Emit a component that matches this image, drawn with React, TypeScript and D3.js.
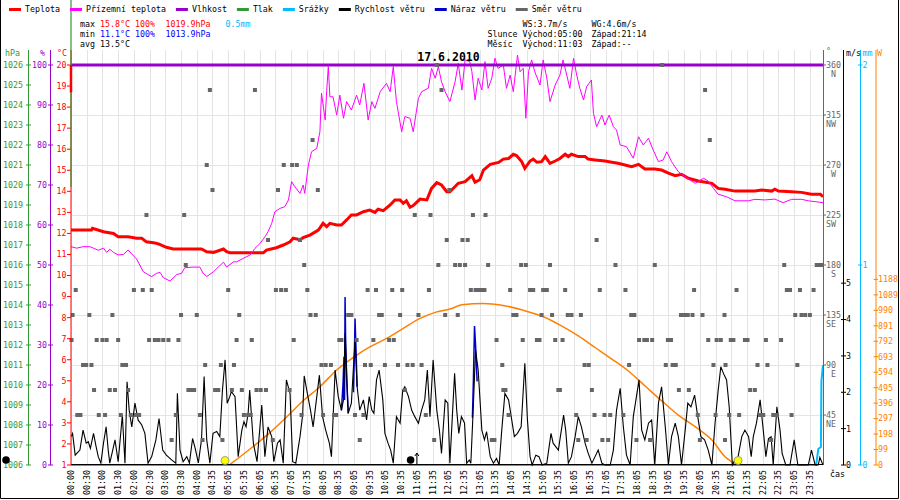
import * as d3 from 'd3';
import { useEffect, useRef } from 'react';

// x axis: one label per 30 min slot
const timeLabels = [
  '00:00', '00:30', '01:00', '01:30', '02:00', '02:30', '03:00', '03:30', '04:00', '04:35',
  '05:05', '05:35', '06:05', '06:35', '07:05', '07:35', '08:05', '08:35', '09:05', '09:35',
  '10:05', '10:35', '11:05', '11:35', '12:05', '12:35', '13:05', '13:35', '14:05', '14:35',
  '15:05', '15:35', '16:05', '16:35', '17:05', '17:35', '18:05', '18:35', '19:05', '19:35',
  '20:05', '20:35', '21:05', '21:35', '22:05', '22:35', '23:05', '23:35'
];

// [minute of day, value]
const temperature: [number, number][] = [
  [0, 12.16], [39, 12.16], [41, 12.24], [62, 12.08], [81, 12.0], [90, 11.84], [109, 11.84], [125, 11.77],
  [135, 11.77], [144, 11.6], [160, 11.55], [167, 11.5], [182, 11.34], [195, 11.26], [249, 11.26], [259, 11.13],
  [272, 11.1], [291, 11.26], [297, 11.13], [303, 11.08], [367, 11.08], [373, 11.21], [392, 11.32], [405, 11.45],
  [418, 11.6], [424, 11.77], [437, 11.7], [443, 11.8], [456, 11.92], [472, 12.16], [481, 12.48], [488, 12.32],
  [494, 12.48], [507, 12.4], [516, 12.4], [526, 12.64], [535, 12.88], [545, 12.88], [558, 13.03], [570, 13.11],
  [580, 13.0], [586, 13.15], [596, 13.08], [609, 13.35], [618, 13.59], [628, 13.59], [634, 13.43], [640, 13.55],
  [647, 13.24], [653, 13.32], [666, 13.63], [679, 13.59], [688, 14.14], [698, 14.41], [707, 14.3], [717, 13.98],
  [723, 13.98], [739, 14.38], [752, 14.46], [765, 14.74], [771, 14.43], [780, 14.55], [787, 15.01], [800, 15.28],
  [816, 15.37], [825, 15.53], [835, 15.56], [844, 15.76], [850, 15.7], [860, 15.41], [866, 15.09], [876, 15.44],
  [882, 15.53], [889, 15.38], [898, 15.41], [905, 15.65], [914, 15.33], [924, 15.44], [933, 15.56], [943, 15.76],
  [949, 15.65], [955, 15.76], [968, 15.65], [981, 15.65], [987, 15.53], [1000, 15.49], [1019, 15.44], [1032, 15.38],
  [1044, 15.33], [1057, 15.25], [1070, 15.17], [1083, 15.28], [1095, 15.06], [1114, 15.06], [1127, 15.01], [1140, 14.86],
  [1153, 14.74], [1165, 14.81], [1178, 14.62], [1197, 14.49], [1223, 14.38], [1235, 14.14], [1248, 14.1], [1267, 14.01],
  [1280, 14.01], [1305, 14.01], [1318, 14.06], [1337, 14.01], [1343, 14.1], [1350, 14.01], [1375, 13.98], [1394, 13.95],
  [1413, 13.86], [1430, 13.86], [1435, 13.74]
];

const apparentTemp: [number, number][] = [
  [0, 11.37], [11, 11.3], [23, 11.37], [36, 11.37], [43, 11.3], [52, 11.2], [62, 11.3], [68, 11.1], [74, 11.25],
  [81, 11.1], [90, 10.98], [100, 11.0], [109, 11.21], [125, 10.79], [138, 10.18], [148, 10.03], [154, 9.95],
  [163, 10.1], [170, 10.15], [176, 9.9], [189, 9.74], [202, 10.05], [211, 10.1], [217, 10.37], [233, 10.4],
  [246, 10.4], [252, 10.11], [259, 9.95], [272, 10.18], [281, 10.4], [291, 10.63], [297, 10.4], [310, 10.65],
  [316, 10.65], [329, 10.82], [342, 10.98], [351, 11.29], [361, 11.53], [370, 11.84], [376, 12.08], [383, 12.48],
  [389, 13.03], [399, 13.19], [408, 13.27], [415, 13.59], [421, 14.46], [427, 14.22], [437, 13.9], [443, 14.3],
  [446, 13.9], [453, 15.25], [459, 15.88], [469, 16.04], [475, 16.83], [478, 18.66], [485, 17.39], [488, 18.8],
  [491, 19.92], [494, 18.49], [500, 18.49], [507, 17.62], [513, 18.57], [520, 17.47], [526, 18.26], [535, 17.86],
  [545, 18.57], [551, 18.1], [559, 19.13], [567, 17.39], [574, 18.26], [580, 17.94], [590, 18.73], [602, 19.13],
  [609, 18.73], [615, 19.92], [621, 18.26], [631, 16.83], [637, 17.55], [647, 17.47], [653, 16.83], [663, 18.42],
  [669, 18.73], [682, 18.9], [688, 19.84], [695, 19.37], [701, 19.92], [707, 19.21], [714, 18.73], [723, 18.26],
  [733, 19.21], [739, 20.08], [746, 18.81], [752, 20.24], [761, 20.16], [765, 19.68], [771, 18.34], [777, 19.37],
  [784, 18.81], [790, 20.16], [796, 18.89], [803, 19.37], [809, 20.32], [815, 19.84], [825, 20.0], [831, 18.89],
  [838, 19.52], [844, 18.73], [852, 20.47], [857, 19.68], [863, 19.84], [868, 17.47], [873, 19.68], [879, 20.24],
  [885, 19.68], [895, 19.05], [901, 20.24], [908, 19.37], [914, 18.26], [924, 19.05], [933, 19.52], [939, 20.24],
  [946, 19.52], [952, 18.89], [959, 20.32], [965, 19.52], [971, 18.89], [978, 18.34], [984, 18.97], [993, 19.29],
  [997, 17.7], [1003, 17.07], [1013, 17.62], [1019, 17.15], [1027, 17.62], [1035, 17.07], [1041, 16.91], [1048, 16.2],
  [1060, 16.12], [1073, 15.57], [1083, 16.59], [1092, 16.2], [1102, 16.52], [1111, 15.96], [1121, 15.41], [1130, 15.49],
  [1137, 15.88], [1146, 15.41], [1159, 14.93], [1172, 14.69], [1191, 14.38], [1207, 14.62], [1216, 14.49], [1226, 14.14],
  [1235, 13.86], [1251, 13.74], [1267, 13.55], [1293, 13.55], [1305, 13.62], [1324, 13.59], [1343, 13.63], [1359, 13.46],
  [1375, 13.62], [1394, 13.62], [1407, 13.55], [1420, 13.51], [1435, 13.46]
];

const humidity: [number, number][] = [[0, 100], [1435, 100]];

const precipitation: [number, number][] = [
  [0, 0], [1422, 0], [1426, 0.08], [1431, 0.09], [1432, 0.42], [1435, 0.5]
];

const windSpeed: [number, number][] = [
  [0, 0.78], [3, 0.87], [8, 0.27], [11, 0.32], [17, 0.41], [23, 0.96], [29, 0.6], [33, 0.64], [37, 0.46], [43, 0.87],
  [48, 0.5], [52, 0.23], [57, 0.05], [62, 0.6], [67, 1.05], [71, 0.41], [74, 0.05], [79, 0.37], [84, 0.69], [90, 0.09],
  [98, 1.37], [103, 0.05], [107, 2.29], [111, 1.51], [116, 1.05], [122, 1.7], [128, 1.24], [135, 1.1], [141, 0.87],
  [147, 0.05], [154, 0.23], [162, 0.69], [168, 1.28], [175, 0.41], [182, 0.27], [192, 0.14], [200, 0.05], [203, 1.97],
  [208, 0.41], [214, 0.09], [221, 0.23], [226, 0.05], [232, 0.73], [237, 0.46], [243, 0.06], [249, 0.69], [254, 2.43],
  [259, 0.69], [265, 0.05], [271, 0.87], [278, 0.92], [284, 0.78], [289, 2.06], [294, 2.89], [298, 1.7], [303, 1.88],
  [306, 2.02], [313, 1.88], [319, 0.23], [326, 0.96], [330, 1.19], [334, 1.05], [338, 1.42], [341, 2.06], [348, 0.6],
  [355, 0.09], [364, 1.65], [370, 0.23], [376, 1.05], [383, 0.78], [387, 0.09], [394, 0.6], [399, 0.69], [405, 0.05],
  [411, 2.34], [418, 1.97], [423, 0.09], [429, 0.05], [437, 0.78], [442, 1.37], [445, 2.45], [451, 1.97], [457, 1.51],
  [462, 1.05], [469, 1.88], [474, 2.47], [480, 1.33], [486, 0.96], [493, 0.6], [497, 0.23], [504, 2.61], [510, 1.88],
  [516, 1.51], [520, 1.79], [523, 3.62], [529, 1.42], [535, 1.7], [542, 3.44], [546, 2.15], [551, 1.51], [558, 1.79],
  [564, 1.24], [569, 1.88], [574, 1.51], [578, 1.42], [583, 2.34], [588, 2.61], [595, 1.79], [599, 0.87], [605, 0.6],
  [610, 0.41], [615, 0.05], [621, 1.33], [628, 1.15], [633, 2.06], [637, 2.15], [644, 1.88], [650, 1.51], [656, 1.33],
  [663, 1.15], [669, 1.51], [675, 1.79], [680, 2.61], [685, 1.33], [691, 2.89], [698, 1.51], [703, 0.96], [707, 0.32],
  [714, 1.79], [719, 1.7], [723, 0.05], [728, 1.42], [732, 2.52], [736, 1.51], [740, 0.87], [745, 1.33], [751, 1.15],
  [755, 0.05], [760, 0.14], [763, 0.05], [768, 1.7], [772, 3.16], [777, 2.61], [784, 0.96], [789, 0.69], [793, 0.92],
  [800, 0.23], [806, 0.05], [812, 0.18], [817, 0], [822, 0.96], [828, 1.97], [835, 1.79], [841, 1.24], [846, 0.78],
  [852, 0.87], [859, 1.05], [866, 2.8], [871, 1.24], [876, 0.23], [880, 0], [887, 0.27], [893, 0.23], [899, 0],
  [908, 0.05], [916, 0.87], [920, 0.6], [930, 0.41], [940, 1.37], [944, 0.96], [949, 0.05], [955, 0.23], [962, 0.78],
  [968, 1.33], [974, 1.05], [981, 0.6], [987, 0.32], [994, 0.05], [1000, 0.23], [1006, 0.41], [1013, 0.05], [1019, 0],
  [1029, 0], [1035, 0.41], [1041, 1.51], [1048, 2.11], [1054, 1.05], [1060, 0.27], [1067, 0], [1073, 1.33], [1079, 1.88],
  [1084, 2.34], [1089, 0.96], [1095, 0.69], [1102, 1.15], [1108, 1.24], [1114, 0], [1121, 1.7], [1127, 2.15], [1134, 1.05],
  [1140, 0], [1146, 0.78], [1153, 1.15], [1159, 0.78], [1165, 0], [1172, 0.96], [1177, 1.7], [1183, 1.6], [1190, 1.92],
  [1196, 1.33], [1202, 0.78], [1209, 0.69], [1216, 0.41], [1223, 0], [1229, 1.15], [1235, 2.06], [1240, 2.7], [1245, 2.52],
  [1251, 2.34], [1256, 1.6], [1262, 0], [1267, 0.14], [1273, 0.23], [1280, 0.78], [1286, 0.96], [1293, 0.78], [1298, 0.23],
  [1302, 0.78], [1308, 1.15], [1315, 1.79], [1321, 0.96], [1326, 0.23], [1331, 0.73], [1336, 0.78], [1340, 0], [1347, 1.6],
  [1353, 0.96], [1357, 0.32], [1364, 0], [1372, 0], [1380, 0.69], [1387, 0], [1396, 0], [1407, 0], [1413, 0.41],
  [1420, 0], [1426, 0], [1429, 0.21], [1435, 0]
];

// gusts only show where they rise above the wind line
const gustBursts: [number, number][][] = [
  [[516, 1.5], [519, 2.2], [521, 2.98], [522, 1.79], [523, 4.62], [524, 3.5], [526, 2.4], [529, 1.42]],
  [[539, 2.0], [541, 3.2], [542, 4.03], [544, 3.1], [546, 2.15]],
  [[766, 1.3], [768, 2.4], [770, 3.82], [772, 3.3], [775, 2.3]]
];

const radiation: [number, number][] = [
  [302, 0], [347, 117], [380, 209], [412, 309], [443, 411], [475, 501], [507, 608], [539, 689], [571, 757],
  [602, 810], [634, 874], [666, 938], [698, 980], [723, 998], [746, 1025], [787, 1034], [822, 1023], [860, 993],
  [905, 944], [936, 890], [968, 826], [1000, 752], [1032, 678], [1063, 603], [1095, 507], [1127, 411], [1159, 319],
  [1191, 245], [1223, 160], [1248, 53], [1264, 11], [1267, 0]
];

// wind direction samples (minute of day), one list per bearing
const dir22 = [192, 251, 289, 385, 551, 693, 803, 808, 968, 984, 1014, 1025, 1079, 1105, 1200, 1248, 1336];
const dir45 = [12, 18, 53, 65, 95, 114, 124, 130, 200, 246, 330, 338, 343, 440, 481, 502, 506, 542, 558, 677, 835,
  964, 999, 1018, 1029, 1054, 1196, 1230, 1256, 1275, 1315, 1321, 1340, 1347, 1375];
const dir67 = [44, 74, 84, 109, 224, 230, 235, 275, 281, 307, 326, 354, 362, 372, 417, 637, 825, 829, 930, 933, 994,
  1160, 1179, 1296, 1305];
const dir90 = [23, 29, 39, 98, 105, 256, 286, 311, 478, 486, 496, 561, 572, 599, 624, 642, 652, 669, 823, 980, 988,
  1065, 1135, 1148, 1154, 1226, 1249, 1310, 1329, 1386];
const dir112 = [1, 49, 60, 68, 90, 149, 160, 167, 176, 186, 205, 316, 345, 425, 512, 516, 545, 577, 607, 616, 812, 862,
  889, 894, 924, 938, 1084, 1094, 1099, 1109, 1139, 1145, 1216, 1232, 1240, 1259, 1264, 1286, 1291, 1326, 1355];
const dir135 = [3, 35, 79, 210, 240, 321, 457, 467, 529, 535, 588, 593, 628, 663, 714, 738, 844, 850, 898, 918, 948,
  955, 973, 1069, 1075, 1164, 1170, 1177, 1186, 1205, 1247, 1382, 1394, 1401, 1410];
const dir157 = [9, 120, 137, 154, 300, 391, 401, 410, 451, 566, 582, 613, 632, 683, 763, 772, 777, 784, 789, 838, 876,
  882, 901, 908, 943, 1009, 1058, 1189, 1270, 1366, 1372, 1391, 1417];
const dir180 = [219, 445, 701, 733, 742, 752, 796, 859, 868, 914, 1039, 1114, 1361, 1423, 1428, 1433];
const dir202 = [376, 437, 717, 747, 757, 1003];
const dir225 = [144, 216, 656, 686, 767, 791];
const dir247 = [270, 395, 471, 722];
const dir270 = [259, 406, 422, 431];
const dir292 = [461, 1219];
const dir337 = [265, 351, 707, 1210];
const dir360 = [698, 1128];

const windDirRows: [number, number[]][] = [
  [22.5, dir22], [45, dir45], [67.5, dir67], [90, dir90], [112.5, dir112], [135, dir135], [157.5, dir157],
  [180, dir180], [202.5, dir202], [225, dir225], [247.5, dir247], [270, dir270], [292.5, dir292],
  [337.5, dir337], [360, dir360]
];

const sunMarks = [294, 1273];
const moonMarks = [-124, 648];
const moonRiseArrow = 660;

const hpaTicks = d3.range(1006, 1027);
const humTicks = d3.range(0, 101, 10);
const tempTicks = d3.range(1, 21);
const dirTicks = [45, 90, 135, 180, 225, 270, 315, 360];
const dirNames = ['NE', 'E', 'SE', 'S', 'SW', 'W', 'NW', 'N'];
const windTicks = [0, 1, 2, 3, 4, 5];
const rainTicks = [0, 1, 2];
const radTicks = d3.range(0, 1189, 99);

const legendItems = [
  { name: 'Teplota', color: '#ff0000' },
  { name: 'Přízemní teplota', color: '#ff00ff' },
  { name: 'Vlhkost', color: '#9900cc' },
  { name: 'Tlak', color: '#339933' },
  { name: 'Srážky', color: '#00bbff' },
  { name: 'Rychlost větru', color: '#000000' },
  { name: 'Náraz větru', color: '#0000cc' },
  { name: 'Směr větru', color: '#666666' }
];

const FONT = '"DejaVu Sans Mono", "Liberation Mono", monospace';
const C = {
  temp: '#ff0000', app: '#ff00ff', hum: '#9900cc', press: '#339933', rain: '#00bbff',
  wind: '#000000', gust: '#0000cc', dir: '#666666', rad: '#ff8000', grid: '#e4e4e4', minBlue: '#0000ff'
};

const App = () => {
  const ref = useRef<SVGSVGElement | null>(null);

  useEffect(() => {
    if (!ref.current) return;
    const svg = d3.select(ref.current);
    svg.selectAll('*').remove();
    svg.attr('width', 900).attr('height', 500);

    const left = 71, right = 823, top = 65, bottom = 465;
    const x = d3.scaleLinear().domain([0, 1435]).range([left, right]);
    const yTemp = d3.scaleLinear().domain([1, 20]).range([bottom, top]);
    const yHum = d3.scaleLinear().domain([0, 100]).range([bottom, top]);
    const yPress = d3.scaleLinear().domain([1006, 1026]).range([bottom, top]);
    const yDir = d3.scaleLinear().domain([0, 360]).range([bottom, top]);
    const yWind = d3.scaleLinear().domain([0, 5.5]).range([bottom, bottom - 200]);
    const yRain = d3.scaleLinear().domain([0, 2]).range([bottom, top]);
    const yRad = d3.scaleLinear().domain([0, 1280]).range([bottom, bottom - 200]);

    const text = (px: number, py: number, s: string, color = '#000', size = 8.3) =>
      svg.append('text').attr('x', px).attr('y', py).attr('fill', color)
        .attr('font-family', FONT).attr('font-size', size).text(s);

    svg.append('rect').attr('width', 900).attr('height', 500).attr('fill', '#fff');

    // grid
    const grid = svg.append('g').attr('stroke', C.grid).attr('shape-rendering', 'crispEdges');
    grid.selectAll('line.v').data(timeLabels).enter().append('line')
      .attr('x1', (_, i) => Math.round(x(i * 30)) + 0.5).attr('x2', (_, i) => Math.round(x(i * 30)) + 0.5)
      .attr('y1', 50).attr('y2', bottom);
    grid.selectAll('line.h').data(dirTicks.filter(d => d < 360)).enter().append('line')
      .attr('x1', left).attr('x2', right).attr('y1', d => yDir(d) + 0.5).attr('y2', d => yDir(d) + 0.5);

    const lineOf = (ys: d3.ScaleLinear<number, number>) =>
      d3.line<[number, number]>().x(d => x(d[0])).y(d => ys(d[1]));

    // radiation
    svg.append('path').attr('d', d3.line<[number, number]>().x(d => x(d[0])).y(d => yRad(d[1]))
      .curve(d3.curveMonotoneX)(radiation) || '')
      .attr('fill', 'none').attr('stroke', C.rad).attr('stroke-width', 1.5);

    // gusts
    gustBursts.forEach(b => {
      svg.append('path').attr('d', lineOf(yWind)(b) || '').attr('fill', 'none')
        .attr('stroke', C.gust).attr('stroke-width', 1.5);
    });

    // precipitation (under the baseline)
    svg.append('path').attr('d', lineOf(yRain)(precipitation) || '').attr('fill', 'none')
      .attr('stroke', C.rain).attr('stroke-width', 2);
    svg.append('line').attr('x1', left).attr('x2', right).attr('y1', bottom - 0.5).attr('y2', bottom - 0.5)
      .attr('stroke', '#000').attr('stroke-width', 1);

    // wind speed
    svg.append('path').attr('d', lineOf(yWind)(windSpeed) || '').attr('fill', 'none')
      .attr('stroke', C.wind).attr('stroke-width', 1.1).attr('stroke-linejoin', 'miter');

    // temperatures
    svg.append('path').attr('d', lineOf(yTemp)(temperature) || '').attr('fill', 'none')
      .attr('stroke', C.temp).attr('stroke-width', 3);
    svg.append('path').attr('d', lineOf(yTemp)(apparentTemp) || '').attr('fill', 'none')
      .attr('stroke', C.app).attr('stroke-width', 1);

    // humidity
    svg.append('path').attr('d', lineOf(yHum)(humidity) || '').attr('fill', 'none')
      .attr('stroke', C.hum).attr('stroke-width', 3);

    // wind direction squares
    const sq = svg.append('g').attr('fill', C.dir);
    windDirRows.forEach(([dir, times]) => {
      sq.selectAll(null).data(times).enter().append('rect')
        .attr('x', t => x(t) - 2).attr('y', yDir(dir) - 2).attr('width', 4).attr('height', 4);
    });

    // left axes
    const vAxis = (ax: number, y0: number, color: string) =>
      svg.append('line').attr('x1', ax).attr('x2', ax).attr('y1', y0).attr('y2', bottom)
        .attr('stroke', color).attr('stroke-width', 1);
    const ticks = (vals: number[], ys: (v: number) => number, x1: number, x2: number, color: string,
      lx: number, anchor: string, fmt: (v: number, i: number) => string) => {
      const g = svg.append('g');
      g.selectAll('line').data(vals).enter().append('line')
        .attr('x1', x1).attr('x2', x2).attr('y1', d => ys(d)).attr('y2', d => ys(d))
        .attr('stroke', color).attr('stroke-width', 1);
      g.selectAll('text').data(vals).enter().append('text')
        .attr('x', lx).attr('y', d => ys(d)).attr('dy', '0.35em')
        .attr('text-anchor', anchor).attr('fill', color)
        .attr('font-family', FONT).attr('font-size', 8.3).text((d, i) => fmt(d, i));
    };

    vAxis(28.5, 50, C.press);
    ticks(hpaTicks, yPress, 26, 31, C.press, 23, 'end', d => String(d));
    vAxis(50.5, 50, C.hum);
    ticks(humTicks, yHum, 48, 53, C.hum, 47, 'end', d => String(d));
    vAxis(71, 50, C.temp);
    ticks(tempTicks, yTemp, 67, 71, C.temp, 66.5, 'end', d => String(d));
    svg.append('line').attr('x1', 71).attr('x2', 71).attr('y1', 0).attr('y2', yPress(1019.9))
      .attr('stroke', C.press).attr('stroke-width', 1.2);
    svg.append('line').attr('x1', 71).attr('x2', 71).attr('y1', top).attr('y2', yTemp(18.7))
      .attr('stroke', C.temp).attr('stroke-width', 2.5);

    text(5, 56, 'hPa', C.press);
    text(40, 56, '%', C.hum);
    text(57, 56, '°C', C.temp);

    // right axes
    vAxis(823.5, 50, C.dir);
    ticks(dirTicks, yDir, 823, 826, C.dir, 826, 'start', d => String(d));
    svg.append('g').selectAll('text').data(dirTicks).enter().append('text')
      .attr('x', 836).attr('y', d => yDir(d) + 9).attr('dy', '0.35em').attr('text-anchor', 'end')
      .attr('fill', C.dir).attr('font-family', FONT).attr('font-size', 8.3).text((_, i) => dirNames[i]);
    vAxis(843.5, 50, C.wind);
    ticks(windTicks, yWind, 841, 846, C.wind, 846, 'start', d => String(d));
    vAxis(860.5, 50, C.rain);
    ticks(rainTicks, yRain, 858, 862.5, C.rain, 862.5, 'start', d => String(d));
    vAxis(876, 50, C.rad);
    ticks(radTicks, yRad, 873.5, 878, C.rad, 878, 'start', d => String(d));

    text(826, 54, '°', C.dir);
    text(846, 56, 'm/s', C.wind);
    text(862.5, 56, 'mm', C.rain);
    text(877, 56, 'W', C.rad);
    text(830, 477, 'čas', '#000');

    // time labels
    svg.append('g').selectAll('text').data(timeLabels).enter().append('text')
      .attr('transform', (_, i) => `translate(${x(i * 30)},470) rotate(-90)`)
      .attr('text-anchor', 'end').attr('dominant-baseline', 'central')
      .attr('font-family', FONT).attr('font-size', 8.3).attr('fill', '#000').text(d => d);

    // sun and moon
    svg.append('g').selectAll('circle').data(sunMarks).enter().append('circle')
      .attr('cx', d => x(d)).attr('cy', 460.5).attr('r', 4)
      .attr('fill', '#ffff00').attr('stroke', '#888').attr('stroke-width', 0.8);
    svg.append('g').selectAll('circle').data(moonMarks).enter().append('circle')
      .attr('cx', d => x(d)).attr('cy', 460).attr('r', 3.8).attr('fill', '#000');
    const ax = x(moonRiseArrow);
    svg.append('path').attr('d', `M${ax},${bottom}V${bottom - 12}M${ax - 2},${bottom - 9}L${ax},${bottom - 12}L${ax + 2},${bottom - 9}`)
      .attr('fill', 'none').attr('stroke', '#000').attr('stroke-width', 1);

    // legend
    let lx = 9;
    legendItems.forEach(item => {
      svg.append('line').attr('x1', lx).attr('x2', lx + 12).attr('y1', 9.5).attr('y2', 9.5)
        .attr('stroke', item.color).attr('stroke-width', 3);
      const t = text(lx + 16, 12, item.name, '#000');
      lx += 16 + (t.node() as SVGTextElement).getComputedTextLength() + 10;
    });

    // summary block
    text(80, 27, 'max');
    text(100, 27, '15.8°C', C.temp);
    text(135, 27, '100%', C.temp);
    text(165.5, 27, '1019.9hPa', C.temp);
    text(225.5, 27, '0.5mm', C.rain);
    text(80, 37, 'min');
    text(100, 37, '11.1°C', C.minBlue);
    text(135, 37, '100%', C.minBlue);
    text(165.5, 37, '1013.9hPa', C.minBlue);
    text(80, 47, 'avg 13.5°C');

    text(522.5, 27, 'WS:3.7m/s');
    text(591.5, 27, 'WG:4.6m/s');
    text(487.5, 37, 'Slunce');
    text(522.5, 37, 'Východ:05:00');
    text(591.5, 37, 'Západ:21:14');
    text(487.5, 47, 'Měsíc');
    text(522.5, 47, 'Východ:11:03');
    text(591.5, 47, 'Západ:--');

    // title
    svg.append('text').attr('x', 448.5).attr('y', 61).attr('text-anchor', 'middle')
      .attr('font-family', FONT).attr('font-size', 11.5).attr('font-weight', 'bold').text('17.6.2010');

    // frame
    svg.append('path').attr('d', 'M0.5,0V498.5H898.5V0').attr('fill', 'none')
      .attr('stroke', '#000').attr('stroke-width', 1);
  }, []);

  return <svg ref={ref} style={{ position: 'absolute', left: 0, top: 0 }} />;
};

export default App;
